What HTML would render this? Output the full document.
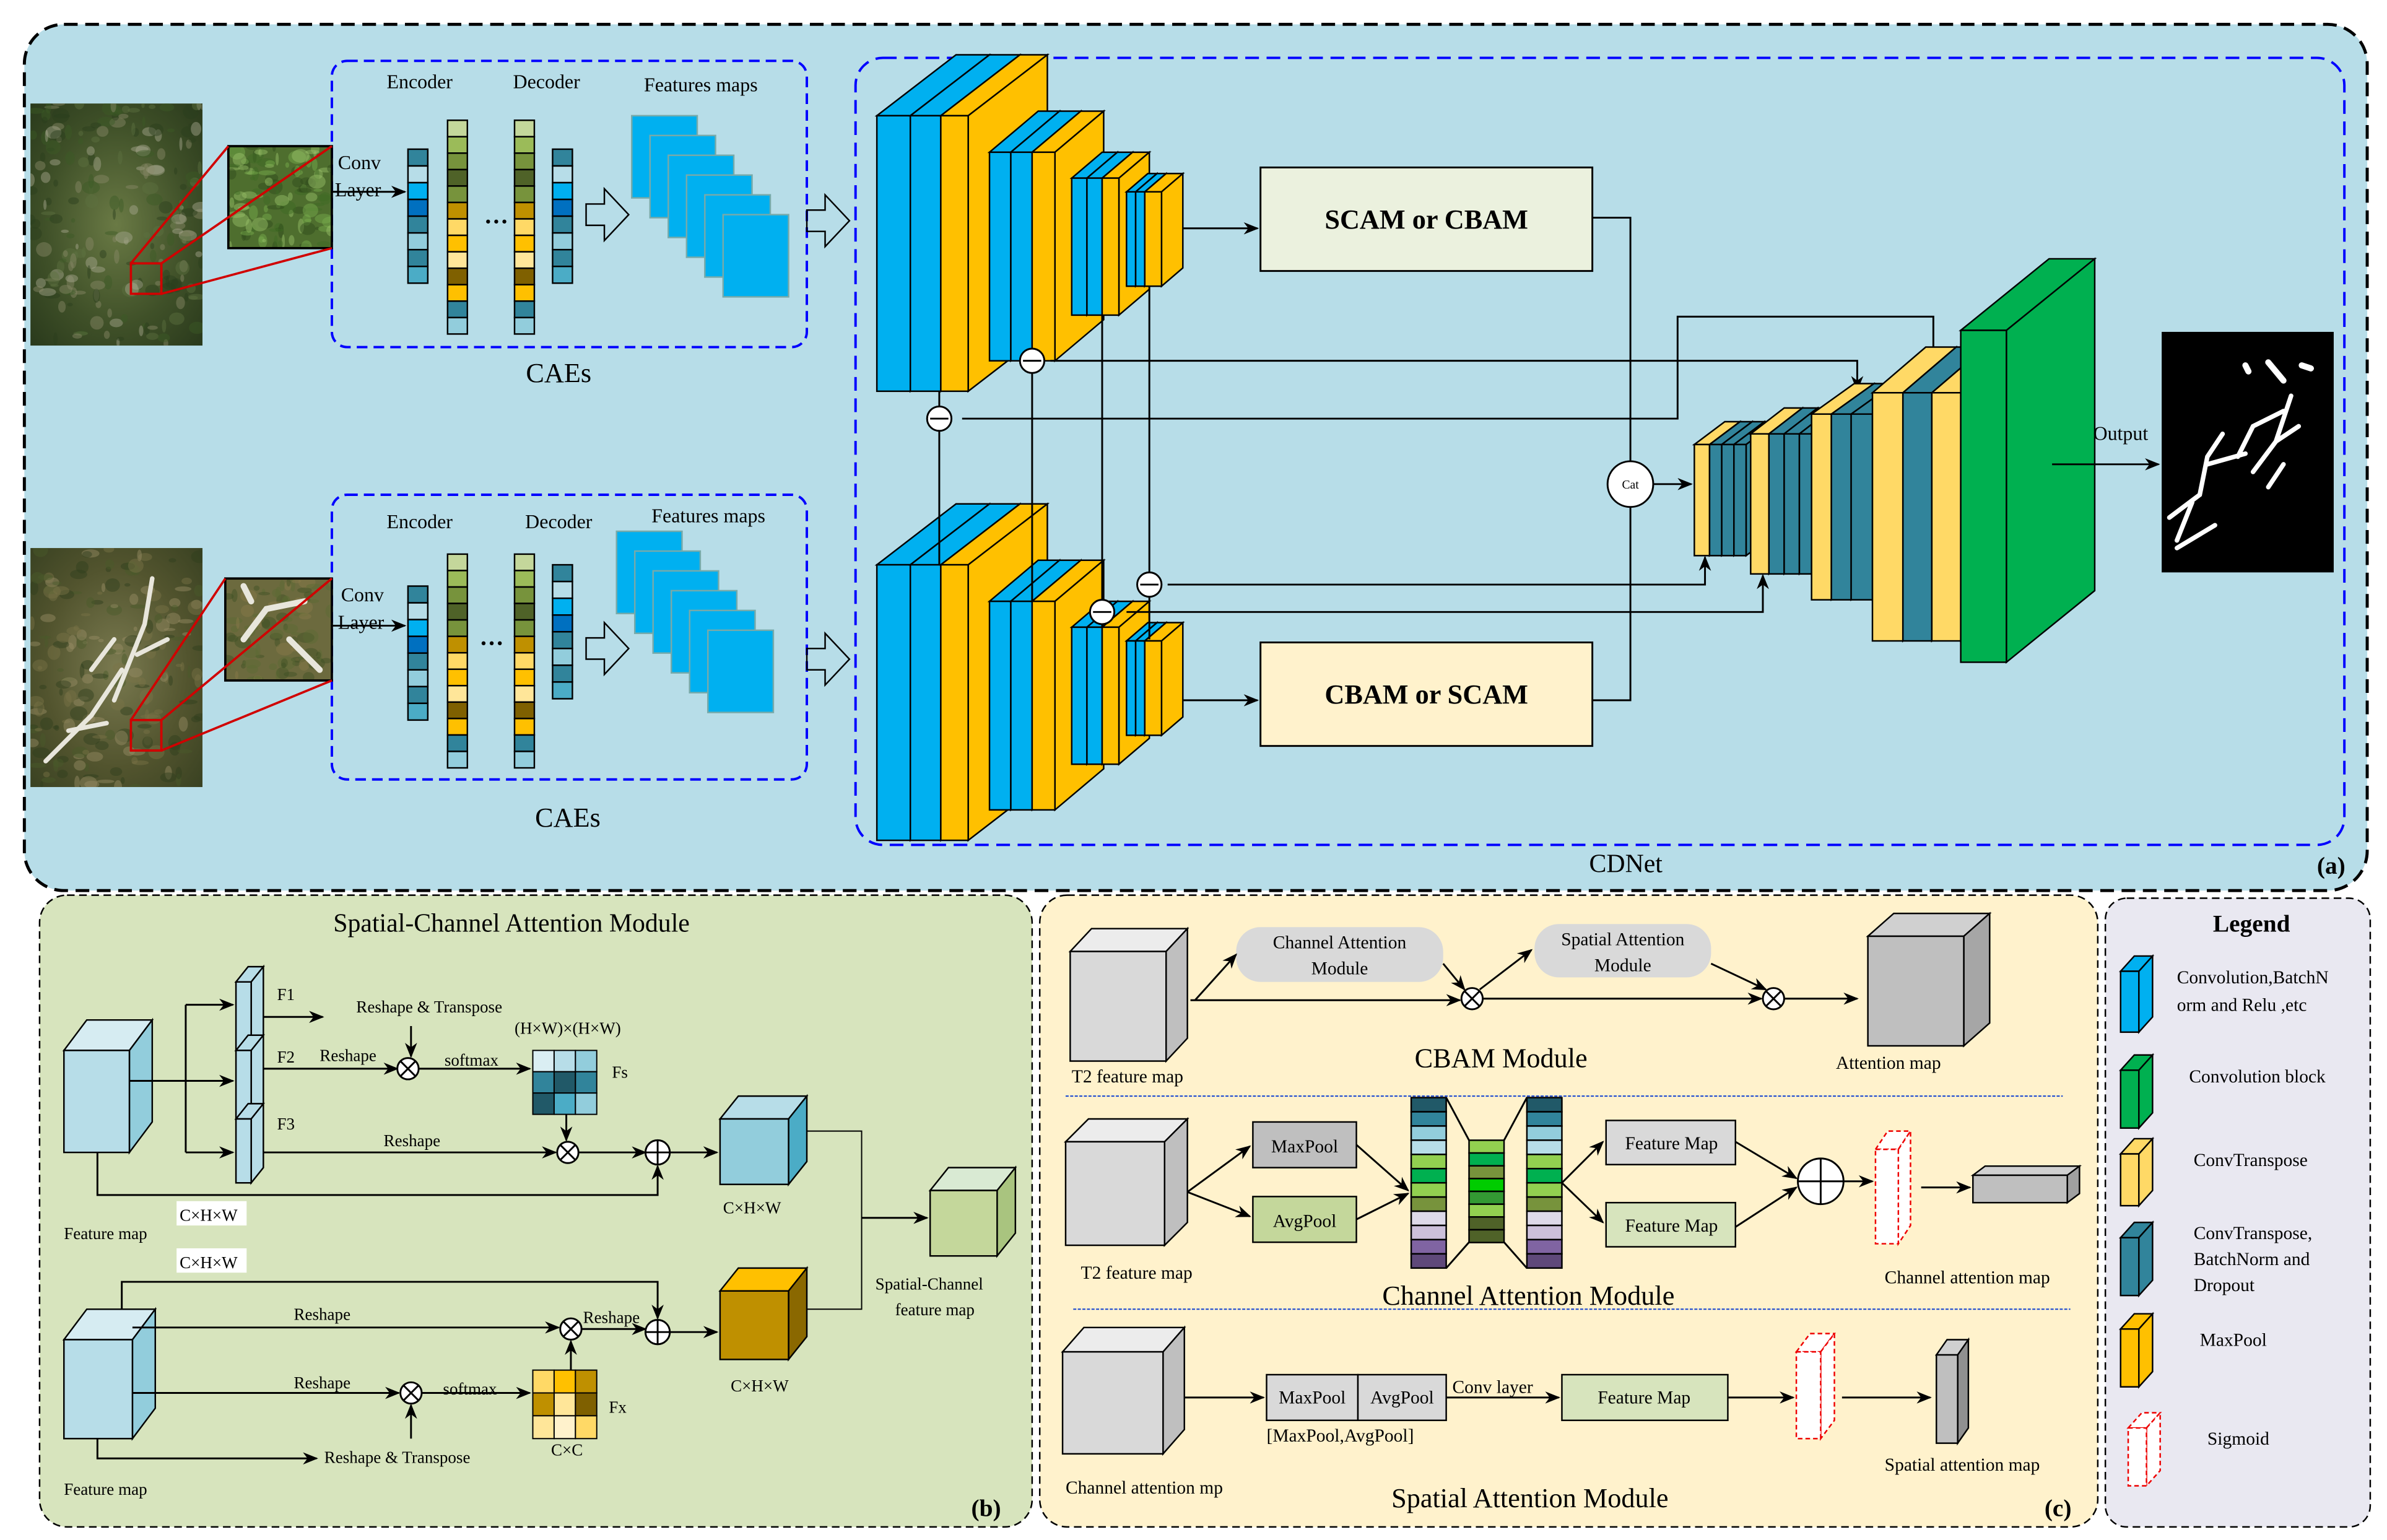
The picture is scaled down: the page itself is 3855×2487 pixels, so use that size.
<!DOCTYPE html>
<html><head><meta charset="utf-8">
<style>
html,body{margin:0;padding:0;background:#fff}
svg{display:block}
text{font-family:"Liberation Serif",serif;fill:#000}
</style></head>
<body>
<svg id="s" xmlns="http://www.w3.org/2000/svg" width="3855" height="2487" viewBox="0 0 1568 1011.6" preserveAspectRatio="none">
<defs>
<marker id="ar" markerWidth="10" markerHeight="8" refX="9" refY="4" orient="auto" markerUnits="userSpaceOnUse"><path d="M0,0 L10,4 L0,8 L3,4 Z" fill="#000"/></marker>
<radialGradient id="sat1" cx="0.5" cy="0.5" r="0.7"><stop offset="0" stop-color="#6a7a45"/><stop offset="0.6" stop-color="#3f5028"/><stop offset="1" stop-color="#2a3a1c"/></radialGradient>
<radialGradient id="sat2" cx="0.5" cy="0.5" r="0.7"><stop offset="0" stop-color="#7a7a50"/><stop offset="0.6" stop-color="#52542e"/><stop offset="1" stop-color="#3a4222"/></radialGradient>
<clipPath id="c1"><rect x="20" y="68" width="113" height="159"/></clipPath>
<clipPath id="c2"><rect x="150" y="96" width="68" height="67"/></clipPath>
<clipPath id="c3"><rect x="20" y="360" width="113" height="157"/></clipPath>
<clipPath id="c4"><rect x="148" y="380" width="70" height="67"/></clipPath>
</defs>
<!-- panels -->
<rect x="16" y="16" width="1539" height="569" rx="26" fill="#b7dde8" stroke="#000" stroke-width="2" stroke-dasharray="9,5"/>
<rect x="26" y="588" width="652" height="415" rx="18" fill="#d7e4bd" stroke="#000" stroke-width="1" stroke-dasharray="5,3"/>
<rect x="683" y="588" width="695" height="415" rx="18" fill="#fff2cc" stroke="#000" stroke-width="1" stroke-dasharray="5,3"/>
<rect x="1383" y="590" width="174" height="413" rx="14" fill="#e9e8f1" stroke="#000" stroke-width="1" stroke-dasharray="5,3"/>
<!-- CAE boxes -->
<rect x="218" y="40" width="312" height="188" rx="10" fill="none" stroke="#0000ff" stroke-width="1.6" stroke-dasharray="7,4"/>
<rect x="218" y="325" width="312" height="187" rx="10" fill="none" stroke="#0000ff" stroke-width="1.6" stroke-dasharray="7,4"/>
<rect x="562" y="38" width="978" height="517" rx="18" fill="none" stroke="#0000ff" stroke-width="1.6" stroke-dasharray="9,5"/>
<!-- sat images -->
<rect x="20" y="68" width="113" height="159" fill="url(#sat1)"/>
<rect x="20" y="360" width="113" height="157" fill="url(#sat2)"/>
<rect x="150" y="96" width="68" height="67" fill="#4e6e2e"/>
<rect x="148" y="380" width="70" height="67" fill="#6c6a3e"/>
<g id="s1" clip-path="url(#c1)"></g><g id="s2" clip-path="url(#c2)"></g><g id="s3" clip-path="url(#c3)"></g><g id="s4" clip-path="url(#c4)"></g>
<rect x="150" y="96" width="68" height="67" fill="none" stroke="#000" stroke-width="1.5"/>
<rect x="148" y="380" width="70" height="67" fill="none" stroke="#000" stroke-width="1.5"/>
<g stroke="#d00000" stroke-width="1.5" fill="none">
<rect x="86" y="173" width="20" height="20"/>
<line x1="86" y1="173" x2="150" y2="96"/><line x1="106" y1="193" x2="218" y2="163"/><line x1="106" y1="173" x2="218" y2="96"/>
<rect x="86" y="473" width="20" height="20"/>
<line x1="86" y1="473" x2="148" y2="380"/><line x1="106" y1="493" x2="218" y2="447"/><line x1="106" y1="473" x2="218" y2="380"/>
</g>
<rect x="1420" y="218" width="113" height="158" fill="#000"/>
<g stroke="#fff" stroke-linecap="round" fill="none" stroke-width="3">
<path d="M1430,360 L1455,345 M1425,340 L1445,325 L1450,300 L1460,285 M1450,305 L1475,298 M1470,300 L1480,280 L1500,270 M1480,310 L1495,290 L1505,260 M1495,290 L1510,280 M1490,320 L1500,305 M1440,330 L1430,355"/>
<path d="M1490,238 L1500,250 M1512,240 L1518,242 M1475,240 L1477,244" stroke-width="4"/>
</g>
<g id="g"></g>
<!-- text -->
<g font-size="13">
<text x="254" y="58">Encoder</text><text x="337" y="58">Decoder</text><text x="423" y="60" fill="#3d4f60">Features maps</text>
<text x="222" y="111">Conv</text><text x="220" y="129">Layer</text>
<text x="254" y="347">Encoder</text><text x="345" y="347">Decoder</text><text x="428" y="343" fill="#3d4f60">Features maps</text>
<text x="224" y="395">Conv</text><text x="222" y="413">Layer</text>
</g>
<text x="318" y="151" font-size="16" font-weight="bold">···</text>
<text x="315" y="428" font-size="16" font-weight="bold">···</text>
<text x="367" y="251" font-size="18" text-anchor="middle">CAEs</text>
<text x="373" y="543" font-size="18" text-anchor="middle">CAEs</text>
<text x="1068" y="573" font-size="17" text-anchor="middle">CDNet</text>
<text x="1522" y="574" font-size="16" font-weight="bold" fill="#3d4f60">(a)</text>
<text x="937" y="150" font-size="18" font-weight="bold" text-anchor="middle">SCAM or CBAM</text>
<text x="937" y="462" font-size="18" font-weight="bold" text-anchor="middle">CBAM or SCAM</text>
<text x="1071" y="321" font-size="8" text-anchor="middle">Cat</text>
<text x="1375" y="289" font-size="13">Output</text>
<!-- panel b text -->
<text x="336" y="612" font-size="17" text-anchor="middle">Spatial-Channel Attention Module</text>
<g font-size="11">
<text x="182" y="657">F1</text><text x="182" y="698">F2</text><text x="182" y="742">F3</text>
<text x="234" y="665">Reshape &amp; Transpose</text>
<text x="210" y="697">Reshape</text><text x="292" y="700">softmax</text>
<text x="338" y="679">(H×W)×(H×W)</text><text x="402" y="708">Fs</text>
<text x="252" y="753">Reshape</text>
<text x="42" y="814">Feature map</text>
<rect x="116" y="789" width="46" height="16" fill="#fff"/><text x="118" y="802">C×H×W</text>
<rect x="116" y="820" width="46" height="16" fill="#fff"/><text x="118" y="833">C×H×W</text>
<text x="475" y="797">C×H×W</text>
<text x="193" y="867">Reshape</text><text x="383" y="869">Reshape</text>
<text x="193" y="912">Reshape</text><text x="291" y="916">softmax</text>
<text x="400" y="928">Fx</text><text x="362" y="956">C×C</text>
<text x="213" y="961">Reshape &amp; Transpose</text>
<text x="42" y="982">Feature map</text>
<text x="480" y="914">C×H×W</text>
<text x="575" y="847">Spatial-Channel</text><text x="588" y="864">feature map</text>
</g>
<text x="638" y="996" font-size="16" font-weight="bold" fill="#3d4f60">(b)</text>
<!-- panel c text -->
<g font-size="12">
<text x="880" y="623" text-anchor="middle">Channel Attention</text><text x="880" y="640" text-anchor="middle">Module</text>
<text x="1066" y="621" text-anchor="middle">Spatial Attention</text><text x="1066" y="638" text-anchor="middle">Module</text>
<text x="704" y="711">T2 feature map</text>
<text x="1206" y="702">Attention map</text>
<text x="857" y="757" text-anchor="middle">MaxPool</text><text x="857" y="806" text-anchor="middle">AvgPool</text>
<text x="1098" y="755" text-anchor="middle">Feature Map</text><text x="1098" y="809" text-anchor="middle">Feature Map</text>
<text x="710" y="840">T2 feature map</text>
<text x="1238" y="843">Channel  attention map</text>
<text x="862" y="922" text-anchor="middle">MaxPool</text><text x="921" y="922" text-anchor="middle">AvgPool</text>
<text x="832" y="947">[MaxPool,AvgPool]</text>
<text x="954" y="915">Conv layer</text>
<text x="1080" y="922" text-anchor="middle">Feature Map</text>
<text x="700" y="981">Channel attention mp</text>
<text x="1238" y="966">Spatial attention map</text>
</g>
<text x="986" y="701" font-size="18" text-anchor="middle">CBAM Module</text>
<text x="1004" y="857" font-size="18" text-anchor="middle">Channel Attention Module</text>
<text x="1005" y="990" font-size="18" text-anchor="middle">Spatial Attention Module</text>
<text x="1343" y="996" font-size="16" font-weight="bold" fill="#3d4f60">(c)</text>
<!-- legend text -->
<text x="1479" y="612" font-size="16" font-weight="bold" text-anchor="middle">Legend</text>
<g font-size="12">
<text x="1430" y="646">Convolution,BatchN</text><text x="1430" y="664">orm and Relu ,etc</text>
<text x="1438" y="711">Convolution block</text>
<text x="1441" y="766">ConvTranspose</text>
<text x="1441" y="814">ConvTranspose,</text><text x="1441" y="831">BatchNorm and</text><text x="1441" y="848">Dropout</text>
<text x="1445" y="884">MaxPool</text>
<text x="1450" y="949">Sigmoid</text>
</g>
</svg>
<script>
(function(){
var NS="http://www.w3.org/2000/svg",g=document.getElementById('g');
function el(t,a,p){var e=document.createElementNS(NS,t);for(var k in a)e.setAttribute(k,a[k]);(p||g).appendChild(e);return e;}
function prism(x,y,w,h,dx,dy,c,o){o=o||{};var sw=o.sw||1,st=o.st||'#000',da=o.da||'none';
 el('polygon',{points:[x,y,x+dx,y-dy,x+w+dx,y-dy,x+w,y].join(','),fill:o.top||c,stroke:st,'stroke-width':sw,'stroke-dasharray':da});
 el('polygon',{points:[x+w,y,x+w+dx,y-dy,x+w+dx,y+h-dy,x+w,y+h].join(','),fill:o.side||c,stroke:st,'stroke-width':sw,'stroke-dasharray':da});
 el('rect',{x:x,y:y,width:w,height:h,fill:c,stroke:st,'stroke-width':sw,'stroke-dasharray':da});}
function line(pts,arrow,o){o=o||{};var a={points:pts.join(','),fill:'none',stroke:'#000','stroke-width':o.sw||1.2};if(arrow)a['marker-end']='url(#ar)';el('polyline',a);}
function circ(x,y,r,t){el('circle',{cx:x,cy:y,r:r,fill:'#fff',stroke:'#000','stroke-width':1.2});
 if(t=='x'){var d=r*0.7;line([x-d,y-d,x+d,y+d]);line([x-d,y+d,x+d,y-d]);}
 if(t=='+'){line([x-r,y,x+r,y]);line([x,y-r,x,y+r]);}
 if(t=='-'){line([x-r+2,y,x+r-2,y]);}}
function col(x,y,w,ch,cols){for(var i=0;i<cols.length;i++)el('rect',{x:x,y:y+i*ch,width:w,height:ch,fill:cols[i],stroke:'#000','stroke-width':1});}
var seed=7;function rnd(){seed=(seed*9301+49297)%233280;return seed/233280;}
function tex(id,x,y,w,h,cs,n){var p=document.getElementById(id);for(var i=0;i<n;i++)el('ellipse',{cx:x+rnd()*w,cy:y+rnd()*h,rx:1+rnd()*5,ry:1+rnd()*4,fill:cs[Math.floor(rnd()*cs.length)],opacity:0.45},p);}
tex('s1',20,68,113,159,['#2b3d1c','#5e7040','#8a8a68','#3c5a26','#a8a890'],220);
tex('s2',150,96,68,67,['#7ab04e','#3f6a24','#9cc46a','#2e4a1a'],120);
tex('s3',20,360,113,157,['#4a5a2a','#7a7448','#2e3e1c','#9a8e66'],200);
tex('s4',148,380,70,67,['#5a6a34','#8a7a4a','#3e5024'],90);
el('path',{d:'M30,500 L60,470 L80,440 M45,480 L70,475 M75,460 L95,410 L100,380 M90,430 L110,420 M60,440 L75,420',stroke:'#e8e6dc','stroke-width':3,fill:'none','stroke-linecap':'round'},document.getElementById('s3'));
el('path',{d:'M160,420 L175,400 L200,395 M190,420 L210,440 M165,395 L160,385',stroke:'#e8e6dc','stroke-width':4,fill:'none','stroke-linecap':'round'},document.getElementById('s4'));
var encA=['#31849b','#b7dde8','#00b0f0','#0070c0','#31849b','#92cddc','#31849b','#4bacc6'];
var mid=['#c4d79b','#9bbb59','#77933c','#4f6228','#77933c','#bf9000','#ffd966','#ffc000','#ffe699','#7f6000','#ffc000','#31849b','#92cddc'];
[[0,98],[285,385]].forEach(function(p,k){var off=p[0];
 col(268,98+off-(k?-2:0),13,11,encA);col(294,79+off,13,10.8,mid);col(338,79+off,13,10.8,mid);col(363,98+off-(k?12:0),13,11,encA);
 line([218,126+off,266,126+off],true);
 var ax=385,ay=141+off;el('polygon',{points:[ax,ay-7,ax+12,ay-7,ax+12,ay-17,ax+28,ay,ax+12,ay+17,ax+12,ay+7,ax,ay+7].join(','),fill:'none',stroke:'#000','stroke-width':1});
 ax=530;ay=145+off+(k?3:0);el('polygon',{points:[ax,ay-7,ax+12,ay-7,ax+12,ay-17,ax+28,ay,ax+12,ay+17,ax+12,ay+7,ax,ay+7].join(','),fill:'none',stroke:'#000','stroke-width':1});
 for(var i=0;i<6;i++){var fx=415-(k?10:0)+i*12,fy=76+off-(k?12:0)+i*13;el('rect',{x:fx,y:fy,width:43,height:54,fill:'#00b0f0',stroke:'#7aa','stroke-width':1});}
});
var B='#00b0f0',Y='#ffc000',T='#31849b',LY='#ffd966',G='#00b050';
function enc(o){
 [[576,22,B],[598,20,B],[618,18,Y]].forEach(function(s){prism(s[0],76+o,s[1],181,52,40,s[2]);});
 [[650,14,B],[664,14,B],[678,15,Y]].forEach(function(s){prism(s[0],100+o,s[1],137,32,27,s[2]);});
 [[704,10,B],[714,10,B],[724,11,Y]].forEach(function(s){prism(s[0],117+o,s[1],90,20,17,s[2]);});
 [[740,6,B],[746,6,B],[752,11,Y]].forEach(function(s){prism(s[0],126+o,s[1],62,14,12,s[2]);});
}
enc(0);enc(295);
el('rect',{x:828,y:110,width:218,height:68,fill:'#ebf1de',stroke:'#000','stroke-width':1.2});
el('rect',{x:828,y:422,width:218,height:68,fill:'#fff2cc',stroke:'#000','stroke-width':1.2});
line([777,150,826,150],true);line([777,460,826,460],true);
line([1046,143,1071,143,1071,303]);line([1046,460,1071,460,1071,333]);
line([617,257,617,371]);line([678,237,678,395]);line([724,207,724,412]);line([755,188,755,420]);
line([632,275,1102,275,1102,208,1270,208,1270,240],true);
line([690,237,1220,237,1220,256],true);
line([740,402,1158,402,1158,378],true);
line([767,384,1120,384,1120,366],true);
circ(617,275,8,'-');circ(678,237,8,'-');circ(724,402,8,'-');circ(755,384,8,'-');
[[1113,10,LY],[1123,8,T],[1131,8,T],[1139,8,T]].forEach(function(s){prism(s[0],292,s[1],73,20,15,s[2]);});
[[1150,12,LY],[1162,10,T],[1172,10,T],[1182,8,T]].forEach(function(s){prism(s[0],285,s[1],92,22,17,s[2]);});
[[1190,13,LY],[1203,13,T],[1216,14,T]].forEach(function(s){prism(s[0],272,s[1],122,28,20,s[2]);});
[[1230,20,LY],[1250,19,T],[1269,19,LY]].forEach(function(s){prism(s[0],258,s[1],163,35,30,s[2]);});
prism(1288,217,30,218,58,47,G);
circ(1071,318,15);
line([1086,318,1111,318],true);
line([1348,305,1418,305],true);
var LB='#b7dde8',LB2='#92cddc';
prism(42,690,43,67,15,20,LB,{top:'#d6ecf2',side:LB2});
line([85,710,122,710]);line([122,660,122,757]);
line([122,660,153,660],true);line([122,710,153,710],true);line([122,757,153,757],true);
prism(155,645,10,45,8,10,LB);prism(155,690,10,45,8,10,LB);prism(155,735,10,42,8,10,LB);
line([173,668,212,668],true);
line([270,674,270,694],true);
line([173,702,261,702],true);circ(268,702,7,'x');line([275,702,348,702],true);
var fsC=['#daeef3','#b7dde8','#92cddc','#31849b','#215968','#31849b','#215968','#4bacc6','#92cddc'];
for(var i=0;i<9;i++)el('rect',{x:350+(i%3)*14,y:690+Math.floor(i/3)*14,width:14,height:14,fill:fsC[i],stroke:'#000','stroke-width':0.8});
line([372,732,372,749],true);
line([173,757,365,757],true);circ(373,757,7,'x');line([380,757,424,757],true);circ(432,757,8,'+');
line([64,757,64,785,432,785,432,766],true);
line([440,757,471,757],true);
prism(473,735,45,43,12,15,LB2,{top:'#b7dde8',side:'#4bacc6'});
prism(42,880,45,65,15,20,LB,{top:'#d6ecf2',side:LB2});
line([80,860,80,842,432,842,432,866],true);
line([87,872,367,872],true);circ(375,873,7,'x');line([382,873,424,873],true);circ(432,875,8,'+');line([440,875,471,875],true);
line([87,915,262,915],true);circ(270,915,7,'x');line([277,915,348,915],true);
line([270,945,270,923],true);
line([64,945,64,958,208,958],true);
var fxC=['#ffd966','#ffc000','#bf9000','#bf9000','#ffe699','#7f6000','#ffe699','#fff2cc','#ffd966'];
for(var i=0;i<9;i++)el('rect',{x:350+(i%3)*14,y:900+Math.floor(i/3)*15,width:14,height:15,fill:fxC[i],stroke:'#000','stroke-width':0.8});
line([375,900,375,881],true);
prism(473,848,45,45,12,15,'#bf9000',{top:'#ffc000',side:'#8a6800'});
line([530,743,566,743,566,860,530,860],false,{sw:0.8});
line([566,800,609,800],true);
prism(611,782,44,43,12,15,'#c4d79b',{top:'#d9ead3',side:'#a9c47f'});
var GR='#d9d9d9';
prism(703,625,63,72,14,15,GR,{top:'#ececec',side:'#bfbfbf'});
el('rect',{x:812,y:609,width:136,height:36,rx:16,fill:GR});
el('rect',{x:1008,y:607,width:116,height:35,rx:16,fill:GR});
line([782,657,959,657],true);line([785,657,812,627],true);line([948,633,962,650],true);
circ(967,656,7,'x');line([974,656,1157,656],true);line([972,650,1006,624],true);line([1124,633,1160,650],true);
circ(1165,656,7,'x');line([1172,656,1220,656],true);
prism(1227,615,63,72,17,15,'#bfbfbf',{top:'#d0d0d0',side:'#a6a6a6'});
el('line',{x1:700,y1:720,x2:1355,y2:720,stroke:'#1040d0','stroke-width':0.8,'stroke-dasharray':'2,1'});
el('line',{x1:705,y1:860,x2:1360,y2:860,stroke:'#1040d0','stroke-width':0.8,'stroke-dasharray':'2,1'});
prism(700,750,65,68,15,15,GR,{top:'#ececec',side:'#bfbfbf'});
el('rect',{x:823,y:737,width:68,height:30,fill:'#bfbfbf',stroke:'#000','stroke-width':1});
el('rect',{x:823,y:786,width:68,height:30,fill:'#c4d79b',stroke:'#000','stroke-width':1});
line([780,783,821,753],true);line([780,783,821,799],true);
line([891,752,925,782],true);line([891,801,925,784],true);
var cc=['#215968','#31849b','#92cddc','#b7dde8','#92d050','#00b050','#92d050','#77933c','#ddd9e8','#ccc0da','#8064a2','#5f497a'];
col(927,721,23,9.33,cc);col(1003,721,23,9.33,cc);
col(965,749,23,8.4,['#92d050','#00b050','#77933c','#00cc00','#339933','#92d050','#4f6228','#4f6228']);
line([950,721,965,749]);line([950,833,965,816]);line([988,749,1003,721]);line([988,816,1003,833]);
el('rect',{x:1055,y:736,width:85,height:29,fill:GR,stroke:'#000','stroke-width':1});
el('rect',{x:1055,y:790,width:85,height:29,fill:'#d7e4bd',stroke:'#000','stroke-width':1});
line([1026,777,1053,750],true);line([1026,777,1053,803],true);
line([1140,750,1180,774],true);line([1140,806,1180,780],true);
circ(1196,776,15,'+');line([1211,776,1230,776],true);
prism(1232,755,15,62,8,12,'#fff',{st:'#e00',da:'3,2'});
line([1262,780,1294,780],true);
prism(1296,772,62,18,8,6,'#bfbfbf',{top:'#d0d0d0',side:'#a0a0a0'});
prism(698,888,66,67,14,16,GR,{top:'#ececec',side:'#bfbfbf'});
line([778,918,830,918],true);
el('rect',{x:832,y:903,width:60,height:30,fill:GR,stroke:'#000','stroke-width':1});
el('rect',{x:892,y:903,width:58,height:30,fill:GR,stroke:'#000','stroke-width':1});
line([950,918,1024,918],true);
el('rect',{x:1026,y:903,width:109,height:30,fill:'#d7e4bd',stroke:'#000','stroke-width':1});
line([1135,918,1178,918],true);
prism(1180,888,16,57,9,12,'#fff',{st:'#e00',da:'3,2'});
line([1210,918,1268,918],true);
prism(1272,890,14,58,7,10,'#bfbfbf',{top:'#d0d0d0',side:'#909090'});
prism(1393,638,12,40,9,10,B);
prism(1393,703,12,38,9,10,G);
prism(1393,758,12,34,9,10,LY);
prism(1393,813,12,38,9,10,T);
prism(1393,873,12,38,9,10,Y);
prism(1398,938,12,38,9,10,'#fff',{st:'#e00',da:'3,2'});
})();
</script>
</body></html>
